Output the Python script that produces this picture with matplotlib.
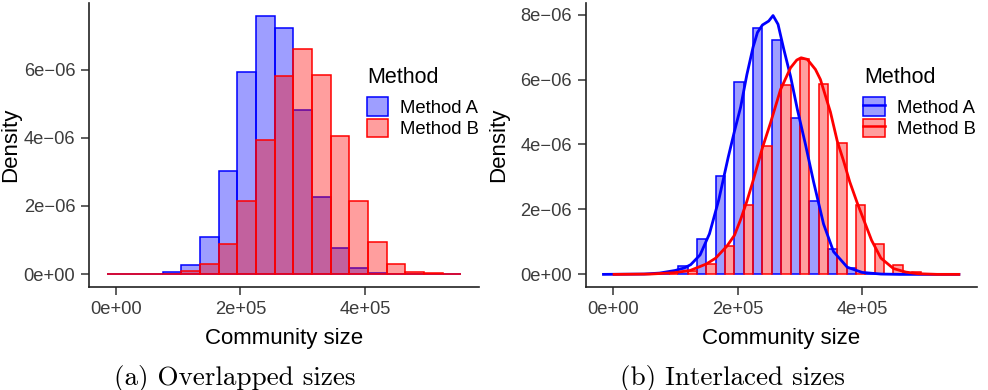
import numpy as np
import matplotlib
matplotlib.use("Agg")
import matplotlib.pyplot as plt
from matplotlib.patches import Patch
from matplotlib.lines import Line2D

plt.rcParams['font.family'] = ['Liberation Sans', 'DejaVu Sans']

# histogram bins (centres), width 30000
bin_centers = [0, 30000, 60000, 90000, 120000, 150000, 180000, 210000, 240000, 270000,
               300000, 330000, 360000, 390000, 420000, 450000, 480000, 510000, 540000]
bin_width = 30000

# densities (x 1e-6)
dens_a = [0, 0, 0.01, 0.05, 0.27, 1.10, 3.03, 5.92, 7.58, 7.22,
          4.83, 2.25, 0.78, 0.19, 0.03, 0, 0, 0, 0]
dens_b = [0, 0, 0, 0.01, 0.09, 0.31, 0.88, 2.15, 3.95, 5.83,
          6.62, 5.85, 4.04, 2.15, 0.95, 0.29, 0.07, 0.02, 0.005]

# density curves (x in thousands, y x 1e-6)
kde_a_x = [-15, 50, 75, 100, 115, 125, 140, 155, 170, 185, 195, 205, 215, 225, 232, 240,
           250, 257, 265, 274, 285, 296, 309, 322, 338, 354, 376, 400, 430, 460, 555]
kde_a_y = [0, 0.01, 0.04, 0.12, 0.20, 0.30, 0.60, 1.25, 2.30, 3.60, 4.40, 5.15, 6.15, 7.00, 7.45, 7.68,
           7.80, 7.97, 7.70, 6.95, 6.10, 5.08, 4.00, 2.85, 1.55, 0.70, 0.22, 0.06, 0.01, 0, 0]
kde_b_x = [2, 60, 98, 124, 150, 165, 183, 195, 205, 215, 224, 240, 253, 269, 285, 295, 302,
           312, 325, 333, 349, 360, 370, 380, 392, 405, 415, 430, 450, 470, 490, 520, 555]
kde_b_y = [0, 0.01, 0.05, 0.12, 0.32, 0.50, 0.87, 1.20, 1.69, 2.25, 2.82, 3.90, 4.67, 5.69, 6.36, 6.60, 6.67,
           6.62, 6.31, 6.00, 5.00, 4.10, 3.50, 2.85, 2.20, 1.55, 1.05, 0.50, 0.18, 0.07, 0.02, 0, 0]

methods = ['Method A', 'Method B']
xticks = [0, 200000, 400000]
xtick_labels = ['0e+00', '2e+05', '4e+05']
yticks_a = [0, 2e-6, 4e-6, 6e-6]
yticks_b = [0, 2e-6, 4e-6, 6e-6, 8e-6]

blue_fill = (0, 0, 1, 0.38)
red_fill = (1, 0, 0, 0.38)

x = np.array(bin_centers, dtype=float)
ha = np.array(dens_a) * 1e-6
hb = np.array(dens_b) * 1e-6

fig = plt.figure(figsize=(9.88, 3.9), dpi=100)
ax1 = fig.add_axes([0.0901, 0.2641, 0.3947, 0.7282])
ax2 = fig.add_axes([0.5928, 0.2633, 0.3957, 0.7300])

# (a) overlapped
ax1.bar(x, ha, width=bin_width, color=blue_fill, edgecolor='blue', linewidth=1.1)
ax1.bar(x, hb, width=bin_width, color=red_fill, edgecolor='red', linewidth=1.1)

# (b) interlaced
ax2.bar(x - bin_width / 4, ha, width=bin_width / 2, color=blue_fill, edgecolor='blue', linewidth=1.1)
ax2.bar(x + bin_width / 4, hb, width=bin_width / 2, color=red_fill, edgecolor='red', linewidth=1.1)
ax2.plot(np.array(kde_a_x) * 1000, np.array(kde_a_y) * 1e-6, color='blue', linewidth=2.0,
         solid_joinstyle='round')
ax2.plot(np.array(kde_b_x) * 1000, np.array(kde_b_y) * 1e-6, color='red', linewidth=2.0,
         solid_joinstyle='round')

lo = x[0] - bin_width / 2
hi = x[-1] + bin_width / 2
pad = 0.05 * (hi - lo)
for ax, ymax, yt, lp in [(ax1, max(ha.max(), hb.max()), yticks_a, 1.5),
                         (ax2, max(kde_a_y) * 1e-6, yticks_b, 8)]:
    ax.set_xlim(lo - pad, hi + pad)
    ax.set_ylim(-0.05 * ymax, 1.05 * ymax)
    ax.set_xticks(xticks)
    ax.set_xticklabels(xtick_labels)
    ax.set_yticks(yt)
    ax.set_yticklabels([('%.0e' % v).replace('-', '\u2212') for v in yt])
    for s in ['top', 'right']:
        ax.spines[s].set_visible(False)
    for s in ['left', 'bottom']:
        ax.spines[s].set_linewidth(1.2)
        ax.spines[s].set_color('#222222')
    ax.tick_params(length=6, width=1.1, color='#333333', labelsize=13.2,
                   labelcolor='#3c3c3c', pad=4)
    ax.set_xlabel('Community size', fontsize=16, labelpad=7)
    ax.set_ylabel('Density', fontsize=16, labelpad=lp)

# legends
h1 = [Patch(facecolor=blue_fill, edgecolor='blue', linewidth=1.1),
      Patch(facecolor=red_fill, edgecolor='red', linewidth=1.1)]
h2 = [(Patch(facecolor=blue_fill, edgecolor='blue', linewidth=1.1), Line2D([], [], color='blue', linewidth=1.8)),
      (Patch(facecolor=red_fill, edgecolor='red', linewidth=1.1), Line2D([], [], color='red', linewidth=1.8))]

for ax, hs, lx in [(ax1, h1, 366.7), (ax2, h2, 863.3)]:
    ax.legend(hs, methods, loc='upper left', bbox_to_anchor=(lx / 988, 1 - 97.3 / 390),
              bbox_transform=fig.transFigure, frameon=False, borderpad=0, borderaxespad=0,
              handlelength=1.175, handleheight=1.175, handletextpad=0.63, labelspacing=0.1,
              fontsize=13.3)
    fig.text((lx + 1) / 988, 1 - 82.7 / 390, 'Method', fontsize=15.5, ha='left', va='baseline')

fig.text(235 / 988, 1 - 384.5 / 390, '(a) Overlapped sizes', family='cmr10', fontsize=19.5,
         ha='center', va='baseline')
fig.text(732 / 988, 1 - 384.5 / 390, '(b) Interlaced sizes', family='cmr10', fontsize=19.5,
         ha='center', va='baseline')

fig.savefig('out.png', dpi=100)
